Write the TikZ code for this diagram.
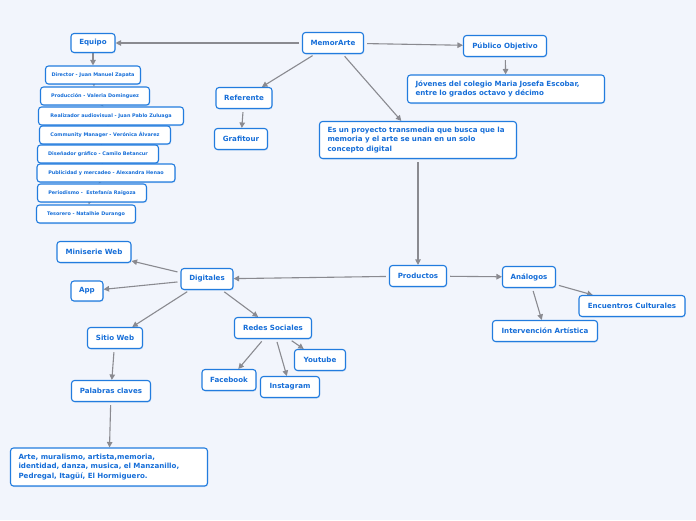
\documentclass[tikz,border=0pt]{standalone}
\usepackage{fontspec}
\setmainfont{DejaVu Sans}
\usetikzlibrary{arrows.meta,shadows}
\definecolor{paper}{RGB}{242,245,252}
\definecolor{azul}{RGB}{34,124,222}
\definecolor{tinta}{RGB}{22,110,216}
\definecolor{gris}{RGB}{138,138,144}
\pgfdeclarelayer{back}
\pgfdeclarelayer{links}
\pgfsetlayers{back,links,main}
\tikzset{
  flow/.style={-{Triangle[length=5.5pt,width=5.5pt]},line width=1.1pt,draw=gris,shorten <=3pt},
  chainflow/.style={flow,shorten <=0pt},
  box/.style={rounded corners=3pt,draw=azul,line width=1.1pt,fill=white,text=tinta,
              font=\bfseries\fontsize{7.1}{9.6}\selectfont,minimum height=21pt,inner sep=2pt,
              drop shadow={shadow xshift=0.6pt,shadow yshift=-1pt,fill=azul,opacity=0.22}},
  teambox/.style={box,font=\bfseries\fontsize{4.9}{5.5}\selectfont,minimum height=18pt},
  textbox/.style={box,align=left,text width=181pt,inner xsep=8pt}
}

\begin{document}
\begin{tikzpicture}[x=1pt,y=-1pt]
  \begin{pgfonlayer}{back}
    \fill[paper] (0,0) rectangle (696,520);
  \end{pgfonlayer}
  \useasboundingbox (0,0) rectangle (696,520);
  % top level
  \node[box,minimum width=61pt] (memo) at (333,43) {MemorArte};
  \node[box,minimum width=44pt,minimum height=19pt] (equipo) at (93,43) {Equipo};
  \node[box,minimum width=83pt] (publico) at (505,46) {Público Objetivo};
  \node[textbox,minimum height=28pt] (jovenes) at (506,89)
    {Jóvenes del colegio Maria Josefa Escobar,\\entre lo grados octavo y décimo};
  \node[box,minimum width=56pt] (ref) at (244,98) {Referente};
  \node[box,minimum width=53pt] (grafi) at (241,139) {Grafitour};
  \node[textbox,minimum height=37pt] (idea) at (418,140)
    {Es un proyecto transmedia que busca que la\\memoria y el arte se unan en un solo\\concepto digital};
  % equipo
  \node[teambox,minimum width=95pt] (t1) at (93,75) {Director - Juan Manuel Zapata};
  \node[teambox,minimum width=109pt] (t2) at (95,96) {Producción - Valeria Dominguez};
  \node[teambox,minimum width=145pt] (t3) at (111,116) {Realizador audiovisual - Juan Pablo Zuluaga};
  \node[teambox,minimum width=131pt] (t4) at (105,135) {Community Manager - Verónica Álvarez};
  \node[teambox,minimum width=121pt] (t5) at (98,154) {Diseñador gráfico - Camilo Betancur};
  \node[teambox,minimum width=138pt] (t6) at (106,173) {Publicidad y mercadeo - Alexandra Henao};
  \node[teambox,minimum width=109pt] (t7) at (92,193) {Periodismo -~ Estefanía Raigoza};
  \node[teambox,minimum width=99pt] (t8) at (86,214) {Tesorero - Natalhie Durango};
  % productos
  \node[box,minimum width=57pt] (prod) at (418,276) {Productos};
  \node[box,minimum width=52pt] (digi) at (207,279) {Digitales};
  \node[box,minimum width=74pt] (mini) at (94,252) {Miniserie Web};
  \node[box,minimum width=32pt,minimum height=20pt] (app) at (87,291) {App};
  \node[box,minimum width=55pt] (sitio) at (115,338) {Sitio Web};
  \node[box,minimum width=79pt] (claves) at (111,391) {Palabras claves};
  \node[textbox,minimum height=38pt] (arte) at (109,467)
    {Arte, muralismo, artista,memoria,\\identidad, danza, musica, el Manzanillo,\\Pedregal, Itagüí, El Hormiguero.};
  \node[box,minimum width=77pt] (redes) at (273,328) {Redes Sociales};
  \node[box,minimum width=51pt] (yt) at (320,360) {Youtube};
  \node[box,minimum width=54pt] (fb) at (229,380) {Facebook};
  \node[box,minimum width=59pt] (ig) at (290,387) {Instagram};
  \node[box,minimum width=53pt] (analog) at (529,277) {Análogos};
  \node[box,minimum width=106pt] (encuen) at (632,306) {Encuentros Culturales};
  \node[box,minimum width=105pt] (interv) at (545,331) {Intervención Artística};
  \begin{pgfonlayer}{links}
    \draw[flow] (memo) -- (equipo);
    \draw[flow] (memo) -- (publico);
    \draw[flow] (memo) -- (ref);
    \draw[flow] (memo) -- (idea);
    \draw[flow] (publico) -- (jovenes);
    \draw[flow] (ref) -- (grafi);
    \foreach \a/\b in {equipo/t1,t1/t2,t2/t3,t3/t4,t4/t5,t5/t6,t6/t7,t7/t8}
      \draw[chainflow] (\a) -- (\b);
    \draw[flow] (idea) -- (prod);
    \draw[flow] (prod) -- (digi);
    \draw[flow] (prod) -- (analog);
    \draw[flow] (digi) -- (mini);
    \draw[flow] (digi) -- (app);
    \draw[flow] (digi) -- (sitio);
    \draw[flow] (digi) -- (redes);
    \draw[flow] (sitio) -- (claves);
    \draw[flow] (claves) -- (arte);
    \draw[flow] (redes) -- (fb);
    \draw[flow] (redes) -- (ig);
    \draw[flow] (redes) -- (yt);
    \draw[flow] (analog) -- (encuen);
    \draw[flow] (analog) -- (interv);
  \end{pgfonlayer}
\end{tikzpicture}
\end{document}
